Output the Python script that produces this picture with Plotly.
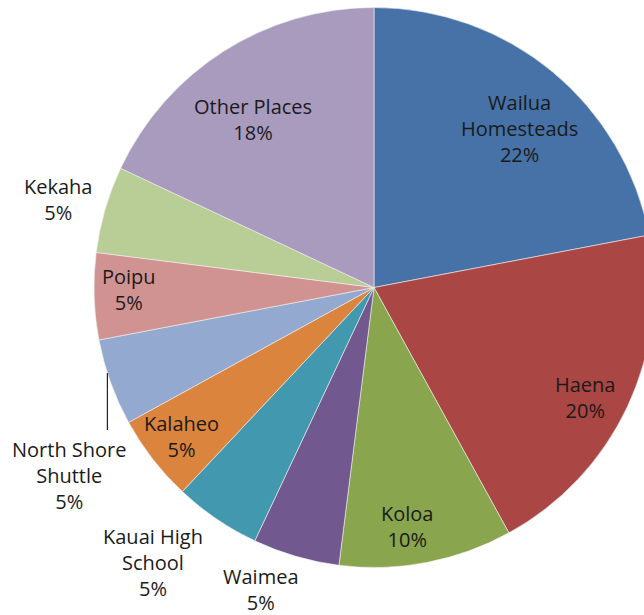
import math
import plotly.graph_objects as go

# Share of riders by boarding area
places = ["Wailua<br>Homesteads", "Haena", "Koloa", "Waimea", "Kauai High<br>School",
          "Kalaheo", "North Shore<br>Shuttle", "Poipu", "Kekaha", "Other Places"]
shares = [22, 20, 10, 5, 5, 5, 5, 5, 5, 18]
colors = ["#4672A8", "#AA4644", "#89A54E", "#71588F", "#4198AF",
          "#DB843D", "#93A9CF", "#D19392", "#B9CD96", "#A99BBD"]

# label placement: radial factor (of pie radius) and angular nudge in degrees
label_radius = [0.77, 0.85, 0.86, 1.15, 1.26, 0.87, 1.28, 0.875, 1.17, 0.74]
label_nudge = [2.9, 2.3, 2.9, 4.3, 4.5, 0.1, -11.9, 1.4, -0.7, -3.4]

W, H = 660, 615
CX, CY, R = 374, 287.5, 280


def to_paper(x, y):
    return x / W, 1 - y / H


fig = go.Figure(go.Pie(
    labels=places,
    values=shares,
    sort=False,
    direction="clockwise",
    rotation=0,
    marker=dict(colors=colors, line=dict(color="#f4f0f0", width=0.6)),
    textinfo="none",
    hoverinfo="skip",
    showlegend=False,
    domain=dict(x=[(CX - R) / W, (CX + R) / W],
                y=[1 - (CY + R) / H, 1 - (CY - R) / H]),
))

total = sum(shares)
annotations = []
cum = 0
mids = []
for name, v, f, d in zip(places, shares, label_radius, label_nudge):
    mid = (cum + v / 2) / total * 360
    mids.append(mid)
    cum += v
    th = math.radians(mid + d)
    x = CX + f * R * math.sin(th)
    y = CY - f * R * math.cos(th)
    px, py = to_paper(x, y)
    annotations.append(dict(
        x=px, y=py, xref="paper", yref="paper",
        text=f"{name}<br>{v}%", showarrow=False,
        xanchor="center", yanchor="middle", align="center",
        font=dict(family="Open Sans", size=20, color="#1a1a1a"),
    ))

# leader line for the North Shore Shuttle label
i = 6
th = math.radians(mids[i] + 2)
x0 = CX + R * math.sin(th)
y0 = CY - R * math.cos(th)
lx, ly0 = to_paper(x0, y0)
_, ly1 = to_paper(x0, 430)

fig.update_layout(
    width=W, height=H,
    margin=dict(l=0, r=0, t=0, b=0),
    paper_bgcolor="white",
    annotations=annotations,
    shapes=[dict(type="line", xref="paper", yref="paper",
                 x0=lx, x1=lx, y0=ly0, y1=ly1,
                 line=dict(color="#222222", width=1.2))],
)

fig.write_html(
    "out.html",
    post_script="document.body.style.margin='0';"
                "document.body.style.overflow='hidden';"
                "document.documentElement.style.overflow='hidden';",
)
